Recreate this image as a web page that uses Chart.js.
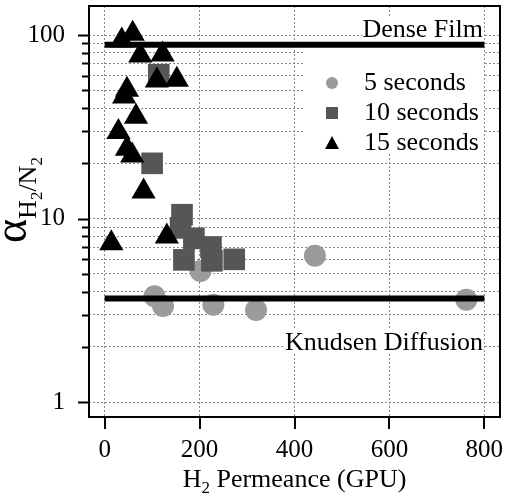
<!DOCTYPE html>
<html>
<head>
<meta charset="utf-8">
<script src="https://cdn.jsdelivr.net/npm/chart.js@4"></script>
<style>
  html, body { margin: 0; padding: 0; background: #fff; }
</style>
</head>
<body>
<canvas id="chart" width="505" height="499"></canvas>
<script>
// axis ticks
const xTicks = [0, 200, 400, 600, 800];
const yTicks = [1, 2, 3, 4, 5, 6, 7, 8, 9, 10, 20, 30, 40, 50, 60, 70, 80, 90, 100];
const yLabelled = [1, 10, 100];

// 5 seconds (circles)
const fiveX = [105, 123, 202, 229, 319, 443, 762];
const fiveY = [3.78, 3.34, 5.19, 3.39, 3.18, 6.27, 3.61];

// 10 seconds (squares)
const tenX = [114, 100, 163, 160, 188, 224, 273, 167, 226];
const tenY = [60.8, 20.0, 10.5, 8.9, 7.8, 7.0, 6.0, 5.96, 5.89];

// 15 seconds (triangles)
const fifteenX = [36, 59, 75, 122, 110, 152, 47, 41, 66, 29, 47, 58, 82, 14, 131];
const fifteenY = [93.5, 101.6, 77.4, 78.4, 56.6, 57.1, 50.3, 46.3, 35.9, 29.6, 24.0, 22.1, 14.05, 7.35, 7.99];

// reference lines
const lineX = [0, 800];
const denseFilm = 88.5;
const knudsen = 3.67;

const serif = '"Liberation Serif", "Times New Roman", serif';
const circleColor = '#9b9b9b';
const squareColor = '#565656';

function pts(xs, ys) {
  return xs.map((x, i) => ({ x: x, y: ys[i] }));
}

const deco = {
  id: 'deco',
  beforeDatasetsDraw(chart) {
    const ctx = chart.ctx;
    const a = chart.chartArea;
    ctx.save();
    ctx.fillStyle = '#fff';
    // white boxes behind legend and the two labels
    ctx.fillRect(305, 47, a.right - 16 - 305, 105);
    ctx.font = '26px ' + serif;
    const wd = ctx.measureText('Dense Film').width;
    ctx.fillRect(a.right - 17 - wd, 18, wd, 22);
    const wk = ctx.measureText('Knudsen Diffusion').width;
    ctx.fillRect(a.right - 17 - wk, 330, wk, 23);
    ctx.restore();
  },
  afterDraw(chart) {
    const ctx = chart.ctx;
    const a = chart.chartArea;
    const xs = chart.scales.x, ys = chart.scales.y;
    ctx.save();
    // frame
    ctx.strokeStyle = '#000';
    ctx.lineWidth = 2;
    ctx.strokeRect(a.left, a.top, a.right - a.left, a.bottom - a.top);
    // tick marks
    ctx.beginPath();
    yTicks.forEach(v => {
      const py = Math.round(ys.getPixelForValue(v)) + 0.5;
      const len = yLabelled.includes(v) ? 11 : 7;
      ctx.moveTo(a.left - len, py);
      ctx.lineTo(a.left, py);
    });
    xTicks.forEach(v => {
      const px = Math.round(xs.getPixelForValue(v));
      ctx.moveTo(px, a.bottom);
      ctx.lineTo(px, a.bottom + 12);
    });
    ctx.stroke();

    // labels on the plot
    ctx.fillStyle = '#000';
    ctx.font = '26px ' + serif;
    ctx.textAlign = 'right';
    ctx.textBaseline = 'alphabetic';
    ctx.fillText('Dense Film', a.right - 17, 37);
    ctx.fillText('Knudsen Diffusion', a.right - 17, 350);

    // legend
    const lx = 332, tx = 364;
    const rows = [83, 113, 143];
    ctx.fillStyle = circleColor;
    ctx.beginPath(); ctx.arc(lx, rows[0], 6, 0, Math.PI * 2); ctx.fill();
    ctx.fillStyle = squareColor;
    ctx.fillRect(lx - 6, rows[1] - 6, 12, 12);
    ctx.fillStyle = '#000';
    ctx.beginPath();
    ctx.moveTo(lx, rows[2] - 7); ctx.lineTo(lx + 7, rows[2] + 6); ctx.lineTo(lx - 7, rows[2] + 6);
    ctx.closePath(); ctx.fill();
    ctx.textAlign = 'left';
    ctx.textBaseline = 'middle';
    ctx.fillText('5 seconds', tx, rows[0]);
    ctx.fillText('10 seconds', tx, rows[1]);
    ctx.fillText('15 seconds', tx, rows[2]);

    // x title: H2 Permeance (GPU)
    ctx.textBaseline = 'alphabetic';
    ctx.font = '26px ' + serif;
    const wH = ctx.measureText('H').width;
    const wRest = ctx.measureText(' Permeance (GPU)').width;
    ctx.font = '17px ' + serif;
    const w2 = ctx.measureText('2').width;
    let x0 = (a.left + a.right) / 2 - (wH + w2 + wRest) / 2;
    const by = 487;
    ctx.font = '26px ' + serif;
    ctx.fillText('H', x0, by);
    ctx.font = '17px ' + serif;
    ctx.fillText('2', x0 + wH, by + 6);
    ctx.font = '26px ' + serif;
    ctx.fillText(' Permeance (GPU)', x0 + wH + w2, by);

    // y title: alpha H2/N2
    ctx.translate(26, 243);
    ctx.rotate(-Math.PI / 2);
    ctx.font = '46px ' + serif;
    ctx.fillText('\u03b1', 0, 0);
    let cx = ctx.measureText('\u03b1').width;
    const parts = [['H', 26, 10], ['2', 17, 16], ['/N', 26, 10], ['2', 17, 16]];
    parts.forEach(p => {
      ctx.font = p[1] + 'px ' + serif;
      ctx.fillText(p[0], cx, p[2]);
      cx += ctx.measureText(p[0]).width;
    });
    ctx.restore();
  }
};

const ctx = document.getElementById('chart').getContext('2d');
new Chart(ctx, {
  type: 'scatter',
  data: {
    datasets: [
      {
        label: 'Dense Film',
        data: pts(lineX, [denseFilm, denseFilm]),
        showLine: true,
        borderColor: '#000',
        borderWidth: 6,
        pointRadius: 0,
        order: 0
      },
      {
        label: 'Knudsen Diffusion',
        data: pts(lineX, [knudsen, knudsen]),
        showLine: true,
        borderColor: '#000',
        borderWidth: 6,
        pointRadius: 0,
        order: 0
      },
      {
        label: '15 seconds',
        data: pts(fifteenX, fifteenY),
        pointStyle: 'triangle',
        pointRadius: 14,
        backgroundColor: '#000',
        borderWidth: 0,
        order: 1
      },
      {
        label: '10 seconds',
        data: pts(tenX, tenY),
        pointStyle: 'rect',
        pointRadius: 15.3,
        backgroundColor: squareColor,
        borderWidth: 0,
        order: 2
      },
      {
        label: '5 seconds',
        data: pts(fiveX, fiveY),
        pointStyle: 'circle',
        pointRadius: 11,
        backgroundColor: circleColor,
        borderWidth: 0,
        order: 3
      }
    ]
  },
  options: {
    responsive: false,
    animation: false,
    clip: false,
    layout: { autoPadding: false, padding: { top: 6, right: 5, left: 0, bottom: 0 } },
    plugins: {
      legend: { display: false },
      tooltip: { enabled: false }
    },
    scales: {
      x: {
        type: 'linear',
        min: -33,
        max: 833,
        afterBuildTicks: s => { s.ticks = xTicks.map(v => ({ value: v })); },
        afterFit: s => {
          s.height = 82;
          s.paddingLeft = 0; s.paddingRight = 0;
        },
        grid: { color: '#8a8a8a', lineWidth: 1, drawTicks: false },
        border: { display: false, dash: [2, 2] },
        ticks: {
          font: { family: serif, size: 25 },
          color: '#000',
          padding: 18,
          maxRotation: 0
        }
      },
      y: {
        type: 'logarithmic',
        min: 0.83,
        max: 144,
        afterBuildTicks: s => { s.ticks = yTicks.map(v => ({ value: v })); },
        afterFit: s => {
          s.width = 89;
          s.paddingTop = 0; s.paddingBottom = 0;
        },
        grid: { color: '#8a8a8a', lineWidth: 1, drawTicks: false },
        border: { display: false, dash: [2, 2] },
        ticks: {
          font: { family: serif, size: 25 },
          color: '#000',
          padding: 24,
          autoSkip: false,
          callback: v => yLabelled.includes(v) ? String(v) : ''
        }
      }
    }
  },
  plugins: [deco]
});
</script>
</body>
</html>
